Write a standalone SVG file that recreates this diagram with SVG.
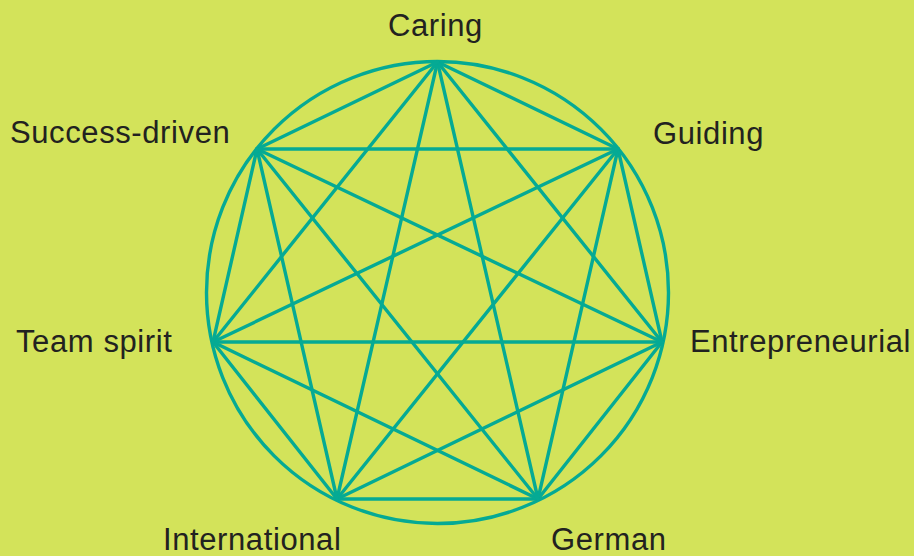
<svg xmlns="http://www.w3.org/2000/svg" width="914" height="556" viewBox="0 0 914 556">
<style>
.lbl{font-family:"Liberation Sans",Arial,sans-serif;font-size:31px;letter-spacing:0.6px;fill:#222220}
.ln{stroke:#05aa94;stroke-width:3.4;fill:none;stroke-linecap:round}
</style>
<rect width="914" height="556" fill="#d3e35a"/>
<g id="connectors" class="ln">
<circle cx="437.5" cy="292.5" r="231"/>
<line x1="437.5" y1="62" x2="618" y2="149"/>
<line x1="437.5" y1="62" x2="662" y2="342"/>
<line x1="437.5" y1="62" x2="538" y2="499"/>
<line x1="437.5" y1="62" x2="337" y2="499"/>
<line x1="437.5" y1="62" x2="213" y2="342"/>
<line x1="437.5" y1="62" x2="257" y2="149"/>
<line x1="618" y1="149" x2="662" y2="342"/>
<line x1="618" y1="149" x2="538" y2="499"/>
<line x1="618" y1="149" x2="337" y2="499"/>
<line x1="618" y1="149" x2="213" y2="342"/>
<line x1="618" y1="149" x2="257" y2="149"/>
<line x1="662" y1="342" x2="538" y2="499"/>
<line x1="662" y1="342" x2="337" y2="499"/>
<line x1="662" y1="342" x2="213" y2="342"/>
<line x1="662" y1="342" x2="257" y2="149"/>
<line x1="538" y1="499" x2="337" y2="499"/>
<line x1="538" y1="499" x2="213" y2="342"/>
<line x1="538" y1="499" x2="257" y2="149"/>
<line x1="337" y1="499" x2="213" y2="342"/>
<line x1="337" y1="499" x2="257" y2="149"/>
<line x1="213" y1="342" x2="257" y2="149"/>
</g>
<g id="caring"><text class="lbl" x="388" y="36">Caring</text></g>
<g id="guiding"><text class="lbl" x="653" y="144">Guiding</text></g>
<g id="entrepreneurial"><text class="lbl" x="690" y="352">Entrepreneurial</text></g>
<g id="german"><text class="lbl" x="551" y="550">German</text></g>
<g id="international"><text class="lbl" x="163" y="550">International</text></g>
<g id="team-spirit"><text class="lbl" x="16" y="352">Team spirit</text></g>
<g id="success-driven"><text class="lbl" x="10" y="143">Success-driven</text></g>
</svg>
